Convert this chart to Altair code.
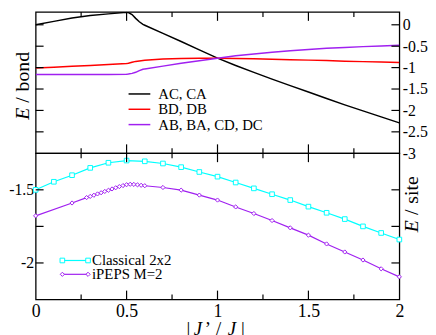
import altair as alt
import pandas as pd

# ---------------- data ----------------
J_top = [0, 0.1, 0.2, 0.3, 0.4, 0.5, 0.51, 0.53, 0.55, 0.57, 0.59, 0.6, 0.7, 0.8, 0.9,
         1.0, 1.1, 1.2, 1.3, 1.4, 1.5, 1.6, 1.7, 1.8, 1.9, 2.0]
E_AC = [0.0, 0.08, 0.16, 0.215, 0.255, 0.29, 0.285, 0.24, 0.15, 0.07, 0.01, -0.01, -0.20,
        -0.39, -0.585, -0.78, -0.95, -1.11, -1.27, -1.42, -1.57, -1.72, -1.87, -2.01, -2.15, -2.29]
E_BD = [-1.01, -0.99, -0.97, -0.95, -0.93, -0.905, -0.90, -0.875, -0.855, -0.845, -0.835,
        -0.83, -0.80, -0.785, -0.78, -0.78, -0.785, -0.795, -0.805, -0.815, -0.825, -0.835,
        -0.85, -0.86, -0.87, -0.88]
E_AB = [-1.16, -1.16, -1.16, -1.16, -1.16, -1.155, -1.15, -1.135, -1.11, -1.07, -1.04, -1.03,
        -0.965, -0.90, -0.84, -0.78, -0.725, -0.68, -0.64, -0.605, -0.575, -0.55, -0.53,
        -0.51, -0.495, -0.48]
series_top = ["AC, CA", "BD, DB", "AB, BA, CD, DC"]
colors_top = ["#000000", "#ff0000", "#a020f0"]

J_cl = [0, 0.1, 0.2, 0.3, 0.4, 0.5, 0.6, 0.7, 0.8, 0.9, 1.0, 1.1, 1.2, 1.3, 1.4, 1.5,
        1.6, 1.7, 1.8, 1.9, 2.0]
E_cl = [-1.50, -1.445, -1.40, -1.35, -1.315, -1.30, -1.305, -1.32, -1.345, -1.378, -1.41,
        -1.45, -1.49, -1.53, -1.57, -1.615, -1.657, -1.70, -1.75, -1.795, -1.84]
J_ip = [0, 0.2, 0.28, 0.30, 0.32, 0.34, 0.36, 0.38, 0.40, 0.42, 0.44, 0.46, 0.48, 0.50,
        0.52, 0.54, 0.56, 0.58, 0.60, 0.7, 0.8, 0.9, 1.0, 1.1, 1.2, 1.3, 1.4, 1.5, 1.6,
        1.7, 1.8, 1.9, 2.0]
E_ip = [-1.678, -1.59, -1.553, -1.545, -1.537, -1.528, -1.520, -1.511, -1.503, -1.494,
        -1.486, -1.478, -1.471, -1.465, -1.462, -1.463, -1.466, -1.469, -1.472, -1.484,
        -1.502, -1.536, -1.57, -1.617, -1.662, -1.71, -1.76, -1.81, -1.87, -1.925, -1.98,
        -2.04, -2.095]
bottom_names = ["Classical 2x2", "iPEPS M=2"]
bottom_colors = ["#00ffff", "#a020f0"]

x_major = [0.5, 1.0, 1.5]
x_minor = [0.25, 0.75, 1.25, 1.75]
x_labels = [0, 0.5, 1, 1.5, 2]
y_top_ticks = [0, -0.5, -1, -1.5, -2, -2.5]
y_top_labels = [0, -0.5, -1, -1.5, -2, -2.5, -3]
y_bot_ticks = [-1.5, -1.75, -2]
y_bot_labels = [-1.5, -2]

# ---------------- layout ----------------
W = 368
H_TOP = 143
H_BOT = 148
FONT = "Liberation Serif, Times New Roman, serif"
MINUS = "replace(datum.label, '\u2212', '-')"
one = pd.DataFrame({"k": [0]})

xs = alt.Scale(domain=[0, 2], nice=False, zero=False)
yts = alt.Scale(domain=[-3, 0.3], nice=False, zero=False)
ybs = alt.Scale(domain=[-2.25, -1.25], nice=False, zero=False)

ax_top_y = alt.Axis(orient="right", values=y_top_labels, ticks=False, domain=False, grid=False,
                    labelFont=FONT, labelFontSize=16, labelPadding=3, labelExpr=MINUS,
                    format="~g", title=None)
ax_bot_x = alt.Axis(orient="bottom", values=x_labels, ticks=False, domain=False, grid=False,
                    labelFont=FONT, labelFontSize=18, labelPadding=3, labelFlush=False,
                    format="~g", title=None)
ax_bot_y = alt.Axis(orient="left", values=y_bot_labels, ticks=False, domain=False, grid=False,
                    labelFont=FONT, labelFontSize=16, labelPadding=2, labelExpr=MINUS,
                    format="~g", title=None)


def tick_layers(yscale, yaxis, xaxis, yticks, H):
    layers = []
    for vals, ln in ((x_major, 9), (x_minor, 5)):
        df = pd.DataFrame({"J": vals})
        for y1, y2 in ((H, H - ln), (0, ln)):
            layers.append(alt.Chart(df).mark_rule(color="black", strokeWidth=1.2).encode(
                x=alt.X("J:Q", scale=xs, axis=xaxis), y=alt.value(y1), y2=alt.value(y2)))
    dfy = pd.DataFrame({"E": yticks})
    for x1, x2 in ((0, 8), (W - 8, W)):
        layers.append(alt.Chart(dfy).mark_rule(color="black", strokeWidth=1.2).encode(
            y=alt.Y("E:Q", scale=yscale, axis=yaxis), x=alt.value(x1), x2=alt.value(x2)))
    return layers


def txt(text, x, y, size=16, italic=False, align="left", angle=0):
    kw = dict(text=text, font=FONT, fontSize=size, align=align, baseline="middle",
              color="black")
    if italic:
        kw["fontStyle"] = "italic"
    if angle:
        kw["angle"] = angle
    return alt.Chart(one).mark_text(**kw).encode(x=alt.value(x), y=alt.value(y))


# ---------------- top panel ----------------
top_df = pd.DataFrame({
    "J": J_top * 3,
    "E": E_AC + E_BD + E_AB,
    "s": [s for s in series_top for _ in J_top],
})
top_lines = alt.Chart(top_df).mark_line(strokeWidth=1.5, clip=True).encode(
    x=alt.X("J:Q", scale=xs, axis=None),
    y=alt.Y("E:Q", scale=yts, axis=ax_top_y),
    color=alt.Color("s:N", scale=alt.Scale(domain=series_top, range=colors_top), legend=None),
    order=alt.Order("J:Q"),
)

top_legend = []
for name, c, yy in zip(series_top, colors_top, [83, 98.5, 114]):
    top_legend.append(alt.Chart(one).mark_rule(color=c, strokeWidth=1.5).encode(
        x=alt.value(94), x2=alt.value(116), y=alt.value(yy)))
    top_legend.append(txt(name, 124, yy, size=15))

# y title "E / bond" (rotated, pieces placed bottom-up)
TX = -13
top_title = [
    txt("E", TX, 109, size=20, italic=True, angle=270),
    txt("/", TX, 92, size=20, angle=270),
    txt("bond", TX, 80.5, size=20, angle=270),
]

top = alt.layer(top_lines, *tick_layers(yts, ax_top_y, None, y_top_ticks, H_TOP),
                *top_legend, *top_title).properties(width=W, height=H_TOP)

# ---------------- bottom panel ----------------
cl_df = pd.DataFrame({"J": J_cl, "E": E_cl})
ip_df = pd.DataFrame({"J": J_ip, "E": E_ip})

xb = alt.X("J:Q", scale=xs, axis=ax_bot_x)
yb = alt.Y("E:Q", scale=ybs, axis=ax_bot_y)

cl_line = alt.Chart(cl_df).mark_line(color=bottom_colors[0], strokeWidth=1.2).encode(x=xb, y=yb)
cl_pts = alt.Chart(cl_df).mark_point(shape="square", fill="white", fillOpacity=1,
                                     stroke=bottom_colors[0], strokeWidth=1, size=22).encode(x=xb, y=yb)
ip_line = alt.Chart(ip_df).mark_line(color=bottom_colors[1], strokeWidth=1.2).encode(x=xb, y=yb)
ip_pts = alt.Chart(ip_df).mark_point(shape="diamond", fill="white", fillOpacity=1,
                                     stroke=bottom_colors[1], strokeWidth=1, size=18).encode(x=xb, y=yb)

bot_legend = []
for name, c, shp, yy in zip(bottom_names, bottom_colors, ["square", "diamond"], [108.5, 122.5]):
    bot_legend.append(alt.Chart(one).mark_rule(color=c, strokeWidth=1.2).encode(
        x=alt.value(27), x2=alt.value(53), y=alt.value(yy)))
    for xx in (27, 53):
        bot_legend.append(alt.Chart(one).mark_point(
            shape=shp, fill="white", fillOpacity=1, stroke=c, strokeWidth=1,
            size=22 if shp == "square" else 18).encode(x=alt.value(xx), y=alt.value(yy)))
    bot_legend.append(txt(name, 57, yy, size=15))

# right title "E / site"
SX = W + 13
bot_rtitle = [
    txt("E", SX, 80, size=20, italic=True, angle=270),
    txt("/", SX, 62.5, size=20, angle=270),
    txt("site", SX, 51, size=20, angle=270),
]

# x title "| J' / J |"
XT_Y = 178
bot_xtitle = [
    txt("|", 154.5, XT_Y, size=19, align="center"),
    txt("J", 159.9, XT_Y, size=19, italic=True),
    txt("\u2019", 171.0, XT_Y, size=19),
    txt("/", 185.0, XT_Y, size=19, align="center"),
    txt("J", 194.4, XT_Y, size=19, italic=True),
    txt("|", 209.7, XT_Y, size=19, align="center"),
]

bot = alt.layer(cl_line, ip_line, cl_pts, ip_pts,
                *tick_layers(ybs, ax_bot_y, ax_bot_x, y_bot_ticks, H_BOT),
                *bot_legend, *bot_rtitle, *bot_xtitle).properties(width=W, height=H_BOT)

chart = alt.vconcat(top, bot, spacing=0, bounds="flush").properties(padding=0).configure(
    font=FONT
).configure_view(stroke="black", strokeWidth=1.3)

chart.save("out.html", embed_options={"renderer": "svg", "actions": False})
